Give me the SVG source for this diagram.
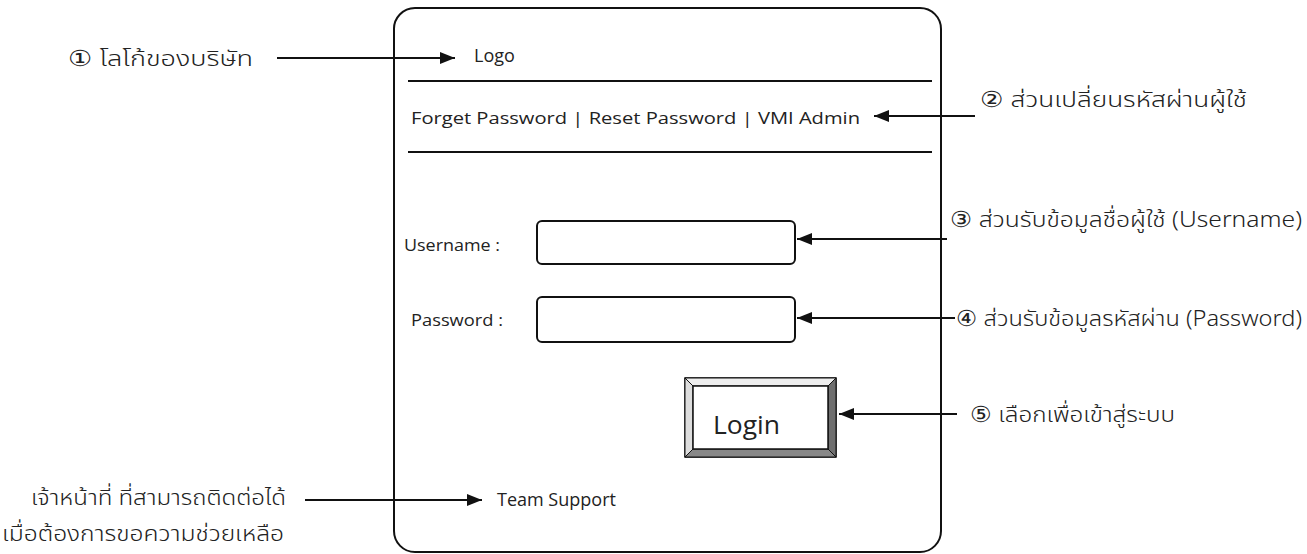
<svg xmlns="http://www.w3.org/2000/svg" width="1307" height="554" viewBox="0 0 1307 554">
<defs>
<style>
.lat{font-family:"Open Sans","Noto Sans",sans-serif;font-size:17px;fill:#222}
.th{font-family:"Noto Sans Thai","Noto Sans","DejaVu Sans",sans-serif;font-size:22px;font-weight:300;fill:#222}
.ln{stroke:#111;stroke-width:2;fill:none}
.box{stroke:#111;stroke-width:2;fill:#fff}
</style>
<marker id="ah" markerUnits="userSpaceOnUse" markerWidth="16" markerHeight="12" refX="15" refY="6" orient="auto">
<path d="M0,0 L15,6 L0,12 Z" fill="#111"/>
</marker>
</defs>
<rect width="1307" height="554" fill="#fff"/>

<g id="frame">
<path class="ln" d="M394,531 L394,30 A21,21 0 0 1 415,8 L920,8 A21,21 0 0 1 941,29 L941,531 A21,21 0 0 1 920,552 L415,552 A21,21 0 0 1 394,531 Z"/>
<line class="ln" x1="408" y1="81" x2="932" y2="81"/>
<line class="ln" x1="408" y1="152" x2="932" y2="152"/>
</g>

<g id="logo"><text class="lat" x="474" y="62" style="font-size:18px">Logo</text></g>
<g id="links"><text class="lat" x="411" y="124" textLength="449" lengthAdjust="spacingAndGlyphs">Forget Password | Reset Password | VMI Admin</text></g>

<g id="username">
<text class="lat" x="404" y="251" textLength="96" lengthAdjust="spacingAndGlyphs">Username :</text>
<rect class="box" x="537" y="221" width="258" height="43" rx="5"/>
</g>
<g id="password">
<text class="lat" x="411" y="326" textLength="92" lengthAdjust="spacingAndGlyphs">Password :</text>
<rect class="box" x="537" y="297" width="258" height="45" rx="5"/>
</g>

<g id="login">
<rect x="685" y="378" width="151" height="79" fill="#fff" stroke="#111" stroke-width="1.5"/>
<polygon points="685,378 836,378 828,386 693,386" fill="#eee" stroke="#111" stroke-width="1"/>
<polygon points="685,378 693,386 693,449 685,457" fill="#ddd" stroke="#111" stroke-width="1"/>
<polygon points="836,378 836,457 828,449 828,386" fill="#6f6f6f" stroke="#111" stroke-width="1"/>
<polygon points="685,457 836,457 828,449 693,449" fill="#888" stroke="#111" stroke-width="1"/>
<rect x="693" y="386" width="135" height="63" fill="#fff" stroke="#111" stroke-width="1.5"/>
<text class="lat" x="713" y="434" style="font-size:25px" textLength="67" lengthAdjust="spacingAndGlyphs">Login</text>
</g>

<g id="team"><text class="lat" x="497" y="506" style="font-size:18px">Team Support</text></g>

<g id="label1"><text class="th" x="68" y="66" textLength="185" lengthAdjust="spacingAndGlyphs">① โลโก้ของบริษัท</text></g>
<g id="label2"><text class="th" x="980" y="107" textLength="267" lengthAdjust="spacingAndGlyphs">② ส่วนเปลี่ยนรหัสผ่านผู้ใช้</text></g>
<g id="label3"><text class="th" x="950" y="227" textLength="352" lengthAdjust="spacingAndGlyphs">③ ส่วนรับข้อมูลชื่อผู้ใช้ (Username)</text></g>
<g id="label4"><text class="th" x="956" y="326" textLength="346" lengthAdjust="spacingAndGlyphs">④ ส่วนรับข้อมูลรหัสผ่าน (Password)</text></g>
<g id="label5"><text class="th" x="970" y="422" textLength="205" lengthAdjust="spacingAndGlyphs">⑤ เลือกเพื่อเข้าสู่ระบบ</text></g>
<g id="label6">
<text class="th" x="31" y="505" textLength="255" lengthAdjust="spacingAndGlyphs">เจ้าหน้าที่ ที่สามารถติดต่อได้</text>
<text class="th" x="2" y="541" textLength="282" lengthAdjust="spacingAndGlyphs">เมื่อต้องการขอความช่วยเหลือ</text>
</g>

<g id="connectors">
<line class="ln" x1="277" y1="58" x2="455" y2="58" marker-end="url(#ah)"/>
<line class="ln" x1="975" y1="116" x2="874" y2="116" marker-end="url(#ah)"/>
<line class="ln" x1="947" y1="239" x2="797" y2="239" marker-end="url(#ah)"/>
<line class="ln" x1="955" y1="318" x2="797" y2="318" marker-end="url(#ah)"/>
<line class="ln" x1="957" y1="414" x2="839" y2="414" marker-end="url(#ah)"/>
<line class="ln" x1="305" y1="500" x2="482" y2="500" marker-end="url(#ah)"/>
</g>
</svg>
